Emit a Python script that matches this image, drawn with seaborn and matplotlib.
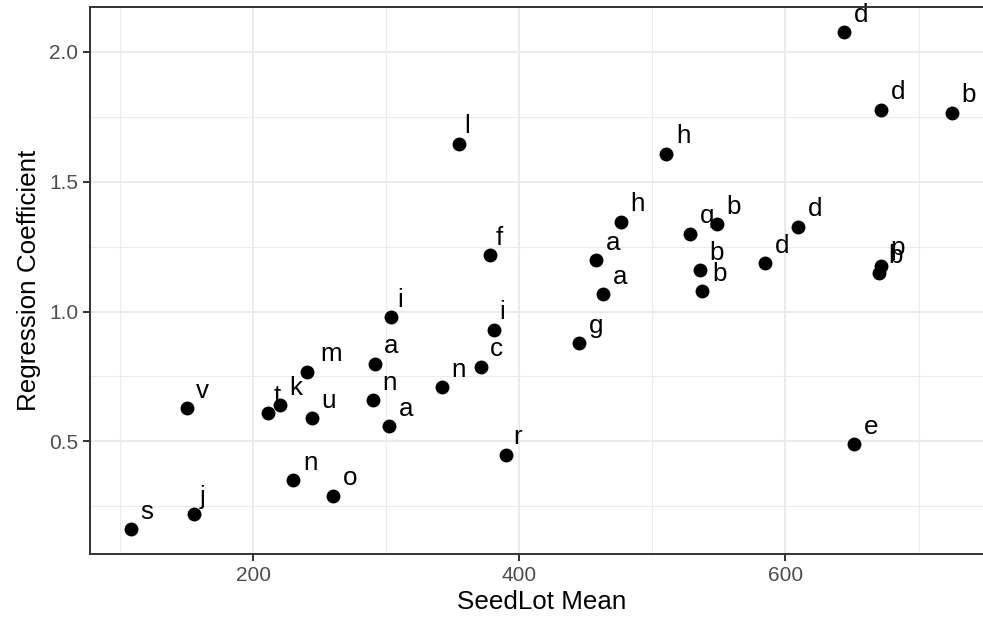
import matplotlib
matplotlib.use("Agg")
import matplotlib.pyplot as plt
import seaborn as sns
import pandas as pd

# values
lots = ["s", "j", "v", "t", "k", "m", "u", "a", "n", "a", "n", "o",
        "l", "f", "i", "i", "h", "a", "a", "q", "b", "b", "b",
        "d", "d", "b", "h", "d", "d", "p", "b", "g", "c", "n", "r", "e"]
seedlot_mean = [108.4, 155.7, 150.5, 211.0, 220.3, 240.5, 244.0, 291.3, 290.0, 302.0, 230.2, 260.3,
                354.8, 377.9, 304.0, 380.9, 476.4, 457.7, 462.7, 528.4, 548.2, 535.7, 537.5,
                644.0, 672.0, 725.1, 510.5, 585.0, 609.2, 671.8, 670.0, 444.9, 370.9, 341.8, 390.1, 651.3]
reg_coef = [0.162, 0.220, 0.628, 0.609, 0.639, 0.768, 0.590, 0.799, 0.659, 0.558, 0.350, 0.290,
            1.647, 1.217, 0.978, 0.929, 1.346, 1.197, 1.067, 1.299, 1.337, 1.159, 1.078,
            2.076, 1.777, 1.766, 1.607, 1.187, 1.327, 1.177, 1.147, 0.877, 0.787, 0.708, 0.448, 0.489]
x_ticks = [200, 400, 600]
y_ticks = [0.5, 1.0, 1.5, 2.0]

df = pd.DataFrame({"SeedLot Mean": seedlot_mean, "Regression Coefficient": reg_coef, "lot": lots})

sns.set_theme(style="white")
plt.rcParams["font.family"] = ["Liberation Sans", "DejaVu Sans"]

fig = plt.figure(figsize=(9.83, 6.23), dpi=100)
ax = fig.add_axes([0.0916, 0.1108, 0.9186, 0.8774])

sns.scatterplot(data=df, x="SeedLot Mean", y="Regression Coefficient", color="black",
                s=100, linewidth=0, ax=ax, zorder=3)

# ggplot-style limits (5% expansion)
xr = max(seedlot_mean) - min(seedlot_mean)
yr = max(reg_coef) - min(reg_coef)

ax.set_xticks(x_ticks)
ax.set_yticks(y_ticks)
ax.set_yticklabels([f"{v:.1f}" for v in y_ticks])
ax.set_xticks([100, 300, 500, 700], minor=True)
ax.set_yticks([0.25, 0.75, 1.25, 1.75], minor=True)
ax.set_xlim(min(seedlot_mean) - 0.05 * xr, max(seedlot_mean) + 0.05 * xr)
ax.set_ylim(min(reg_coef) - 0.05 * yr, max(reg_coef) + 0.05 * yr)

ax.grid(True, which="major", color="#EBEBEB", linewidth=1.5, zorder=0)
ax.grid(True, which="minor", color="#EBEBEB", linewidth=0.75, zorder=0)
ax.set_axisbelow(True)
for sp in ax.spines.values():
    sp.set_color("#333333")
    sp.set_linewidth(1.4)

ax.tick_params(axis="both", which="major", bottom=True, left=True, length=5, width=1.4,
               color="#333333", labelsize=15, labelcolor="#4D4D4D", pad=3.6)
ax.tick_params(axis="both", which="minor", length=0)
ax.set_xlabel("SeedLot Mean", fontsize=18.7, color="black", labelpad=4)
ax.set_ylabel("Regression Coefficient", fontsize=18.7, color="black", labelpad=6)

# labels: hjust=-0.5, vjust=-0.5 like geom_text
texts = []
for xv, yv, lab in zip(seedlot_mean, reg_coef, lots):
    t = ax.annotate(lab, (xv, yv), xytext=(0, 10.5), textcoords="offset pixels",
                    ha="left", va="baseline", fontsize=18.7, color="black", zorder=2)
    texts.append(t)
fig.canvas.draw()
r = fig.canvas.get_renderer()
for t in texts:
    w = t.get_window_extent(r).width
    t.xyann = (w / 2 + 2.5, 10.5)

fig.savefig("out.png", dpi=100)
